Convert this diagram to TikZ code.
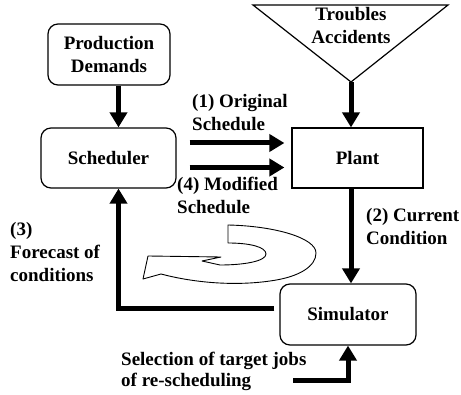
\documentclass[tikz,border=0pt]{standalone}
\usepackage{fontspec}
\setmainfont{Liberation Serif}
\usetikzlibrary{arrows.meta}
% strut fixing the top of the first line of a label
\newcommand\lblstrut{\rule{0pt}{15pt}}
\begin{document}
\begin{tikzpicture}[x=1pt,y=-1pt,
  txt/.style={font=\bfseries\fontsize{19}{23}\selectfont, inner sep=0pt},
  lbl/.style={txt, align=left, anchor=north west},
  rbox/.style={txt, draw, line width=1.2pt, rounded corners=10pt, align=center},
  sbox/.style={txt, draw, line width=1.2pt, align=center},
  bigarrow/.style={line width=5pt, -{Triangle[width=17pt,length=15pt]}},
  uturn/.style={draw, fill=white, line width=0.9pt, line join=round}]
\useasboundingbox (0,0) rectangle (461,395);

% source of disturbances
\coordinate (tl) at (253,5);
\coordinate (tr) at (448,5);
\coordinate (apex) at (351,82);
\draw[line width=1.2pt, line join=miter] (tl) -- (tr) -- (apex) -- cycle;
\node[txt, align=center, anchor=north] (trouble) at (351,5) {\lblstrut Troubles\\Accidents};

% blocks
\node[rbox, minimum width=122pt, minimum height=61pt] (pd) at (109,54.5) {Production\\Demands};
\node[rbox, minimum width=135pt, minimum height=60pt] (sched) at (108.5,158) {Scheduler};
\node[sbox, minimum width=131pt, minimum height=60pt] (plant) at (357.5,158) {Plant};
\node[rbox, minimum width=136pt, minimum height=61pt] (sim) at (348,314.5) {Simulator};

% labels
\node[lbl] (l1) at (192,92) {\lblstrut(1) Original\\Schedule};
\node[lbl] (l4) at (177,175) {\lblstrut(4) Modified\\Schedule};
\node[lbl] (l2) at (366,206) {\lblstrut(2) Current\\Condition};
\node[lbl] (l3) at (10,220) {\lblstrut(3)\\Forecast of\\conditions};
\node[lbl, font=\bfseries\fontsize{19}{21}\selectfont] (lsel) at (121,350)
  {\lblstrut Selection of target jobs\\of re-scheduling};

% connectors
\coordinate (pdout) at ([xshift=9.5pt]pd.south);
\draw[bigarrow] (pdout) -- (pdout |- sched.north);
\draw[bigarrow] (apex) -- (apex |- plant.north);

\coordinate (o1) at ([shift={(13pt,15pt)}]sched.east);
\coordinate (o4) at ([shift={(13pt,-9.5pt)}]sched.east);
\draw[bigarrow, shorten >=7pt] (o1) -- (o1 -| plant.west);
\draw[bigarrow, shorten >=7pt] (o4) -- (o4 -| plant.west);

\coordinate (p2out) at ([xshift=-6.5pt]plant.south);
\draw[bigarrow] (p2out) -- (p2out |- sim.north);

\coordinate (s3) at ([shift={(-5pt,5.5pt)}]sim.west);
\coordinate (fb) at ([xshift=10pt]sched.south);
\draw[bigarrow, line join=miter] (s3) -- (s3 -| fb) -- (fb);

\coordinate (selstart) at (293,381);
\draw[bigarrow, line join=miter] (selstart) -- (selstart -| sim.south) -- (sim.south);

% re-scheduling loop arrow
\path[uturn] (228,225) -- (228,243)
  .. controls (250,243) and (266,247) .. (266,254)
  .. controls (266,261) and (245,265) .. (220,265)
  -- (202,261) -- (221,257) -- (148,256) -- (143,279) -- (161,274)
  .. controls (195,283) and (235,286) .. (270,281)
  .. controls (300,277) and (316,266) .. (316,253)
  .. controls (316,238) and (275,226) .. (228,225) -- cycle;
\end{tikzpicture}
\end{document}
